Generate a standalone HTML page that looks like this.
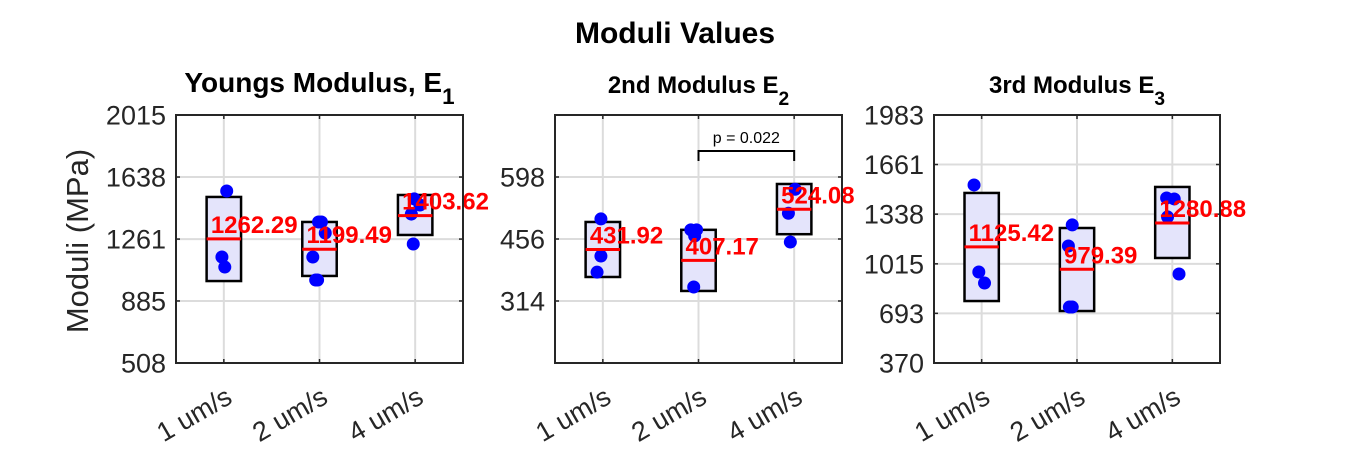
<!DOCTYPE html>
<html><head><meta charset="utf-8"><style>
html,body{margin:0;padding:0;background:#fff;}
svg{display:block;font-family:"Liberation Sans",Arial,sans-serif;}
</style></head><body>
<svg id="fig" width="1350" height="450" viewBox="0 0 1350 450">
<rect width="1350" height="450" fill="#fff"/>
<text x="675" y="43" text-anchor="middle" font-size="30" font-weight="bold">Moduli Values</text>
<text transform="translate(88,241) rotate(-90)" text-anchor="middle" font-size="31" fill="#262626">Moduli (MPa)</text>
</svg>
<script>
const categories = ["1 um/s", "2 um/s", "4 um/s"];
const panelTitles = ["Youngs Modulus, E", "2nd Modulus E", "3rd Modulus E"];
const panelSubs = ["1", "2", "3"];
const yMins = [508, 172, 370];
const yMaxs = [2015, 740, 1983];
const yTicks1 = [508, 885, 1261, 1638, 2015];
const yTicks2 = [172, 314, 456, 598, 740];
const yTicks3 = [370, 693, 1015, 1338, 1661, 1983];
const tickLabels2 = ["", "314", "456", "598", ""];
const means1 = [1262.29, 1199.49, 1403.62];
const means2 = [431.92, 407.17, 524.08];
const means3 = [1125.42, 979.39, 1280.88];
const boxTop1 = [1517, 1365, 1529];
const boxBot1 = [1006, 1037, 1286];
const boxTop2 = [495, 477, 582];
const boxBot2 = [369, 337, 467];
const boxTop3 = [1476, 1248, 1515];
const boxBot3 = [773, 708, 1053];
const ptGroup1 = [0,0,0,1,1,1,1,1,1,2,2,2,2];
const ptVal1 = [1553,1152,1091,1365,1365,1298,1152,1012,1012,1505,1468,1413,1231];
const ptJit1 = [0.03,-0.02,0.01,-0.01,0.02,0.06,-0.07,-0.04,-0.02,-0.01,0.05,-0.04,-0.02];
const ptGroup2 = [0,0,0,1,1,1,1,2,2,2];
const ptVal2 = [502,417,380,477,477,463,346,570,515,449];
const ptJit2 = [-0.02,-0.02,-0.06,-0.08,-0.02,-0.04,-0.05,0.01,-0.06,-0.04];
const ptGroup3 = [0,0,0,1,1,1,1,2,2,2,2];
const ptVal3 = [1528,962,890,1268,1131,734,734,1443,1437,1320,949];
const ptJit3 = [-0.08,-0.03,0.03,-0.05,-0.09,-0.08,-0.05,-0.06,0.02,-0.05,0.07];
const pText = "p = 0.022";

const NS = "http://www.w3.org/2000/svg";
const svg = document.getElementById("fig");
function mk(tag, attrs, parent) {
  const e = document.createElementNS(NS, tag);
  for (const k in attrs) e.setAttribute(k, attrs[k]);
  (parent || svg).appendChild(e);
  return e;
}
const panels = [
  {L:176,R:463,ticks:yTicks1,labels:yTicks1.map(String),means:means1,top:boxTop1,bot:boxBot1,g:ptGroup1,v:ptVal1,j:ptJit1,tfs:28,ty:92},
  {L:555,R:842,ticks:yTicks2,labels:tickLabels2,means:means2,top:boxTop2,bot:boxBot2,g:ptGroup2,v:ptVal2,j:ptJit2,tfs:24,ty:93},
  {L:934,R:1220,ticks:yTicks3,labels:yTicks3.map(String),means:means3,top:boxTop3,bot:boxBot3,g:ptGroup3,v:ptVal3,j:ptJit3,tfs:24,ty:93}
];
const T = 115, B = 363;
panels.forEach((p, pi) => {
  const g = mk("g", {});
  
  
  const xs = v => p.L + (v - 0.5) / 3 * (p.R - p.L);
  const ys = v => B - (v - yMins[pi]) / (yMaxs[pi] - yMins[pi]) * (B - T);
  p.ticks.forEach((t, i) => {
    const y = ys(t);
    const gl = mk("line", {x1:p.L, x2:p.R, y1:y, y2:y, stroke:"#dcdcdc", "stroke-width":2}, g);
    
    
    mk("line", {x1:p.L, x2:p.L+4, y1:y, y2:y, stroke:"#262626", "stroke-width":1.5}, g);
    mk("line", {x1:p.R-4, x2:p.R, y1:y, y2:y, stroke:"#262626", "stroke-width":1.5}, g);
    if (p.labels[i] !== "") {
      const tl = mk("text", {x:p.L-10, y:y+9.5, "text-anchor":"end", "font-size":27, fill:"#262626"}, g);
      tl.textContent = p.labels[i];
      
      
    }
  });
  categories.forEach((c, i) => {
    const x = xs(i + 1);
    const gl = mk("line", {x1:x, x2:x, y1:T, y2:B, stroke:"#dcdcdc", "stroke-width":2}, g);
    
    
    mk("line", {x1:x, x2:x, y1:B-4, y2:B, stroke:"#262626", "stroke-width":1.5}, g);
    mk("line", {x1:x, x2:x, y1:T, y2:T+4, stroke:"#262626", "stroke-width":1.5}, g);
    const tl = mk("text", {transform:`translate(${x+10},${402}) rotate(-30)`, "text-anchor":"end", "font-size":27, fill:"#262626"}, g);
    tl.textContent = c;
    
    
  });
  categories.forEach((c, i) => {
    const x0 = xs(i + 1 - 0.18), x1 = xs(i + 1 + 0.18);
    const r = mk("rect", {x:x0, y:ys(p.top[i]), width:x1-x0, height:ys(p.bot[i])-ys(p.top[i]), fill:"#e4e4fb", stroke:"#000", "stroke-width":2.5}, g);
    
    
  });
  p.v.forEach((v, k) => {
    const d = mk("circle", {cx:xs(p.g[k] + 1 + p.j[k]), cy:ys(v), r:6.5, fill:"#0000ff"}, g);
    
    
  });
  categories.forEach((c, i) => {
    const y = ys(p.means[i]);
    const ml = mk("line", {x1:xs(i+1-0.18), x2:xs(i+1+0.18), y1:y, y2:y, stroke:"#ff0000", "stroke-width":3}, g);
    
    
  });
  categories.forEach((c, i) => {
    const y = ys(p.means[i]);
    const mt = mk("text", {x:xs(i+1)-13, y:y-6, "font-size":24, "font-weight":"bold", fill:"#ff0000"}, g);
    mt.textContent = p.means[i].toFixed(2);
    
    
  });
  const ax = mk("rect", {x:p.L, y:T, width:p.R-p.L, height:B-T, fill:"none", stroke:"#262626", "stroke-width":2}, g);
  
  
  const tt = mk("text", {x:(p.L+p.R)/2, y:p.ty, "text-anchor":"middle", "font-size":p.tfs, "font-weight":"bold"}, g);
  tt.textContent = panelTitles[pi];
  const sub = mk("tspan", {dy:12, "font-size":p.tfs*0.8}, tt);
  sub.textContent = panelSubs[pi];
  
  
  if (pi === 1) {
    const bx0 = xs(2), bx1 = xs(3);
    const br = mk("path", {d:`M${bx0},161 V151 H${bx1} V161`, fill:"none", stroke:"#000", "stroke-width":2}, g);
    
    
    const pt = mk("text", {x:(bx0+bx1)/2, y:143, "text-anchor":"middle", "font-size":16}, g);
    pt.textContent = pText;
    
    
  }
});
</script>
</body></html>
